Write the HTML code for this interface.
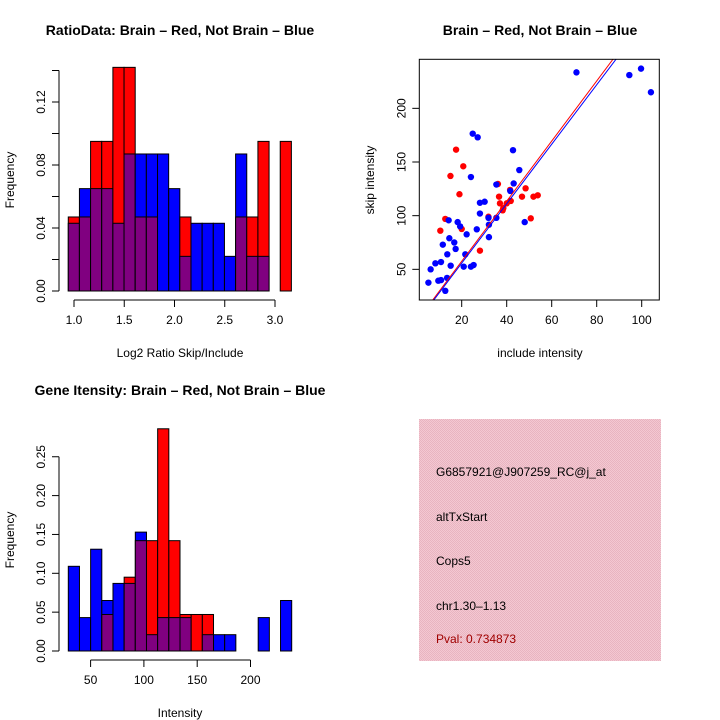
<!DOCTYPE html>
<html><head><meta charset="utf-8"><style>
body{margin:0;background:#fff;}
svg{display:block;font-family:"Liberation Sans",Arial,sans-serif;}
</style></head><body>
<svg id="c" width="720" height="720" viewBox="0 0 720 720">
<rect width="720" height="720" fill="#fff"/>
<text x="180" y="35" text-anchor="middle" font-size="14" font-weight="bold">RatioData: Brain – Red, Not Brain – Blue</text>
<text x="540" y="35" text-anchor="middle" font-size="14" font-weight="bold">Brain – Red, Not Brain – Blue</text>
<text x="180" y="395" text-anchor="middle" font-size="14" font-weight="bold">Gene Itensity: Brain – Red, Not Brain – Blue</text>
<text x="180" y="357" text-anchor="middle" font-size="12">Log2 Ratio Skip/Include</text>
<text x="14" y="180" text-anchor="middle" font-size="12" transform="rotate(-90 14 180)">Frequency</text>
<text x="540" y="357" text-anchor="middle" font-size="12">include intensity</text>
<text x="374" y="180" text-anchor="middle" font-size="12" transform="rotate(-90 374 180)">skip intensity</text>
<text x="180" y="717" text-anchor="middle" font-size="12">Intensity</text>
<text x="14" y="540" text-anchor="middle" font-size="12" transform="rotate(-90 14 540)">Frequency</text>
<defs><pattern id="pk" width="2" height="2" patternUnits="userSpaceOnUse"><rect width="2" height="2" fill="#f4c8d2"/><rect width="1" height="1" fill="#e8b4c0"/><rect x="1" y="1" width="1" height="1" fill="#e8b4c0"/></pattern></defs>
<g>
<rect x="419" y="419" width="242" height="242" fill="url(#pk)"/>
<text x="436" y="476" font-size="12">G6857921@J907259_RC@j_at</text>
<text x="436" y="521" font-size="12">altTxStart</text>
<text x="436" y="565" font-size="12">Cops5</text>
<text x="436" y="610" font-size="12">chr1.30–1.13</text>
<text x="436" y="643" font-size="12" fill="#a00000">Pval: 0.734873</text>
</g>
</svg>
<script>
// Ratio histogram data
const ratioRed  = [0.047,0.047,0.095,0.095,0.142,0.142,0.047,0.047,0,0,0.047,0,0,0,0,0.047,0.047,0.095,0,0.095];
const ratioBlue = [0.043,0.065,0.065,0.065,0.043,0.087,0.087,0.087,0.087,0.065,0.022,0.043,0.043,0.043,0.022,0.087,0.022,0.022,0,0];
const ratioXTicks = [1.0,1.5,2.0,2.5,3.0];
const ratioYTicks = [0,0.02,0.04,0.06,0.08,0.10,0.12,0.14];
const ratioYLabels = ["0.00","","0.04","","0.08","","0.12",""];
// Intensity histogram data
const intRed  = [0,0,0,0.047,0,0.095,0.142,0.142,0.286,0.142,0.047,0.047,0.047,0,0,0,0,0,0,0];
const intBlue = [0.109,0.043,0.131,0.065,0.087,0.087,0.153,0.021,0.043,0.043,0.043,0,0.021,0.021,0.021,0,0,0.043,0,0.065];
const intXTicks = [50,100,150,200];
const intYTicks = [0,0.05,0.10,0.15,0.20,0.25];
const intYLabels = ["0.00","0.05","0.10","0.15","0.20","0.25"];
// Scatter data
const blueX = [5.2,6.2,8.3,10.8,9.6,10.8,11.6,13.6,13.5,12.7,14.2,14.5,15.1,16.7,17.3,18.2,19.3,21.6,22.2,20.9,24.1,25.3,24.9,27.1,24.1,26.7,28.1,28.1,30.2,31.9,32.1,32.1,35.4,35.4,41.6,43.1,42.8,45.6,48,71,94.5,99.7,104.1];
const blueY = [37.6,50,55.6,56.8,39.4,40,73,64,42,30,95.7,79,53.4,75,69,94,90,64,82.6,52.5,52.5,54,176.4,173,136,87.3,112,102,113,98,91.6,80,98,129,123,130,161,142.5,94,233.5,231,237,215];
const redX = [17.5,20.7,15,19,10.5,12.7,20,28.1,31.9,36.1,36.6,37,38.5,40,41.5,41.8,46.8,48.4,50.7,51.9,53.8,38.2];
const redY = [161.5,146,137,120,86,97,87.6,67.4,99,129.5,117.7,111.5,107,111.5,124,113.7,117.7,125.5,97.5,117.7,119,105];
const fitRed = [1.5,2.8];   // intercept, slope
const fitBlue = [0.35,2.77];
const scXTicks = [20,40,60,80,100];
const scYTicks = [50,100,150,200];

const NS="http://www.w3.org/2000/svg", svg=document.getElementById('c');
function mk(tag,a,parent){const e=document.createElementNS(NS,tag);for(const k in a)e.setAttribute(k,a[k]);(parent||svg).appendChild(e);return e;}

function hist(red,blue,x0,bw,yScale,name){
  const g=mk('g',{});
  
  
  red.forEach((r,i)=>{
    const b=blue[i], x=x0+i*bw, hi=Math.max(r,b), lo=Math.min(r,b);
    if(hi>0){
      const e=mk('rect',{x:x,y:yScale(hi),width:bw,height:yScale(0)-yScale(hi),fill:r>=b?'#ff0000':'#0000ff',stroke:'#000','stroke-width':1},g);
      
      
    }
    if(lo>0){
      const e=mk('rect',{x:x,y:yScale(lo),width:bw,height:yScale(0)-yScale(lo),fill:'#800080',stroke:'#000','stroke-width':1},g);
      
      
    }
  });
}
function yAxis(x,ticks,labels,yScale,name){
  const g=mk('g',{stroke:'#000','stroke-width':1});
  
  
  mk('line',{x1:x,x2:x,y1:yScale(ticks[0]),y2:yScale(ticks[ticks.length-1])},g);
  ticks.forEach((t,i)=>{
    const y=yScale(t);
    mk('line',{x1:x-7,x2:x,y1:y,y2:y},g);
    if(labels[i]){
      const tx=mk('text',{x:x-14,y:y,'text-anchor':'middle','font-size':12,stroke:'none',transform:`rotate(-90 ${x-14} ${y})`},g);
      tx.textContent=labels[i];
      
      
    }
  });
}
function xAxis(y,ticks,xScale,name,fmt){
  const g=mk('g',{stroke:'#000','stroke-width':1});
  
  
  mk('line',{x1:xScale(ticks[0]),x2:xScale(ticks[ticks.length-1]),y1:y,y2:y},g);
  ticks.forEach(t=>{
    const x=xScale(t);
    mk('line',{x1:x,x2:x,y1:y,y2:y+7},g);
    const tx=mk('text',{x:x,y:y+24,'text-anchor':'middle','font-size':12,stroke:'none'},g);
    tx.textContent=fmt(t);
    
    
  });
}

// Ratio histogram
const rY=v=>291-v*1575, rX=v=>74+(v-1)*100.5;
hist(ratioRed,ratioBlue,rX(0.943),0.111*100.5,rY,'ratio');
yAxis(59,ratioYTicks,ratioYLabels,rY,'ratio');
xAxis(300,ratioXTicks,rX,'ratio',t=>t.toFixed(1));

// Intensity histogram
const iY=v=>651-v*777, iX=v=>37.3+v*1.066;
hist(intRed,intBlue,68.3,11.17,iY,'intensity');
yAxis(59,intYTicks,intYLabels,iY,'intensity');
xAxis(660,intXTicks,iX,'intensity',t=>String(t));

// Scatter
const sX=v=>416.7+v*2.25, sY=v=>323-v*1.0733;
const L=419.3,R=659.3,T=59.3,B=300;
const cp=mk('clipPath',{id:'scclip'});mk('rect',{x:L,y:T,width:R-L,height:B-T},cp);
const sg=mk('g',{'clip-path':'url(#scclip)'});


redX.forEach((x,i)=>{const c=mk('circle',{cx:sX(x),cy:sY(redY[i]),r:3.2,fill:'#ff0000'},sg);
  
  });
blueX.forEach((x,i)=>{const c=mk('circle',{cx:sX(x),cy:sY(blueY[i]),r:3.2,fill:'#0000ff'},sg);
  
  });
[[fitRed,'#ff0000','brain-fit-line'],[fitBlue,'#0000ff','not-brain-fit-line']].forEach(([f,col,n])=>{
  const l=mk('line',{x1:sX(0),y1:sY(f[0]),x2:sX(120),y2:sY(f[0]+f[1]*120),stroke:col,'stroke-width':1},sg);
  
  
});
const box=mk('rect',{x:L,y:T,width:R-L,height:B-T,fill:'none',stroke:'#000','stroke-width':1});


const sxg=mk('g',{stroke:'#000'});


scXTicks.forEach(t=>{const x=sX(t);mk('line',{x1:x,x2:x,y1:B,y2:B+7},sxg);
  const tx=mk('text',{x:x,y:B+24,'text-anchor':'middle','font-size':12,stroke:'none'},sxg);tx.textContent=t;
  
  });
const syg=mk('g',{stroke:'#000'});


scYTicks.forEach(t=>{const y=sY(t);mk('line',{x1:L-7,x2:L,y1:y,y2:y},syg);
  const tx=mk('text',{x:L-14,y:y,'text-anchor':'middle','font-size':12,stroke:'none',transform:`rotate(-90 ${L-14} ${y})`},syg);tx.textContent=t;
  
  });
</script>
</body></html>
